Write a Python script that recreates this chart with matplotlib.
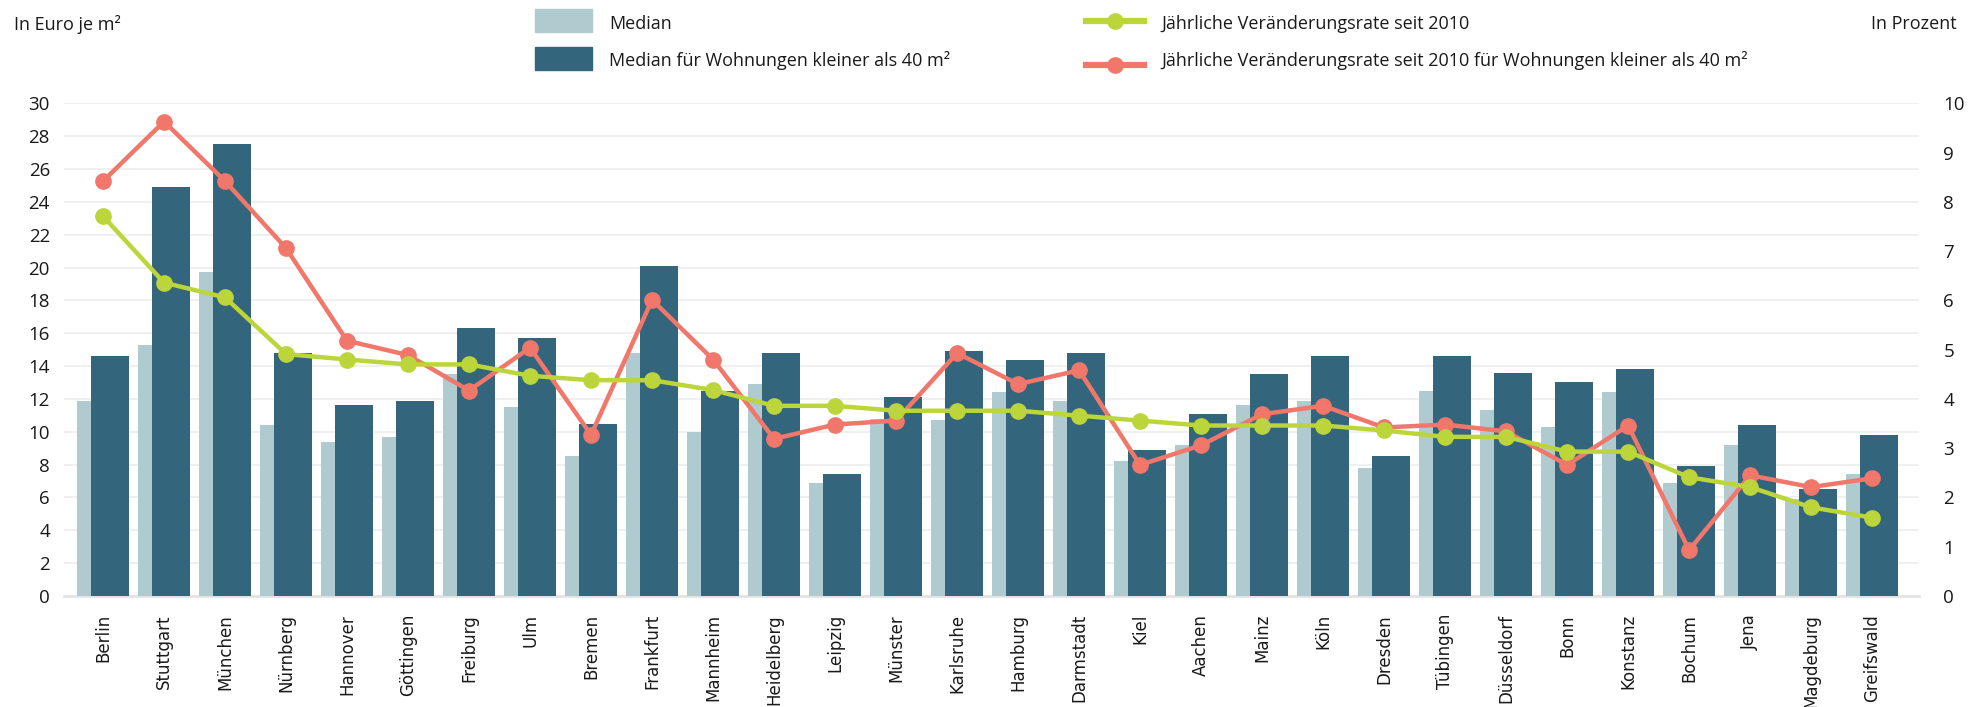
import matplotlib
matplotlib.use("Agg")
import matplotlib.pyplot as plt
from matplotlib import font_manager
from matplotlib.patches import Rectangle
from matplotlib.lines import Line2D
import numpy as np

cities = ["Berlin", "Stuttgart", "München", "Nürnberg", "Hannover", "Göttingen",
          "Freiburg", "Ulm", "Bremen", "Frankfurt", "Mannheim", "Heidelberg",
          "Leipzig", "Münster", "Karlsruhe", "Hamburg", "Darmstadt", "Kiel",
          "Aachen", "Mainz", "Köln", "Dresden", "Tübingen", "Düsseldorf", "Bonn",
          "Konstanz", "Bochum", "Jena", "Magdeburg", "Greifswald"]
median = [11.9, 15.3, 19.7, 10.4, 9.4, 9.7, 13.5, 11.5, 8.5, 14.8, 10.0, 12.9,
          6.9, 10.8, 10.7, 12.4, 11.9, 8.2, 9.2, 11.6, 11.9, 7.8, 12.5, 11.3,
          10.3, 12.4, 6.9, 9.2, 5.9, 7.4]
median_small = [14.6, 24.9, 27.5, 14.8, 11.6, 11.9, 16.3, 15.7, 10.5, 20.1, 12.5,
                14.8, 7.4, 12.1, 14.9, 14.4, 14.8, 8.9, 11.1, 13.5, 14.6, 8.5,
                14.6, 13.6, 13.0, 13.8, 7.9, 10.4, 6.5, 9.8]
rate = [7.71, 6.36, 6.06, 4.91, 4.80, 4.70, 4.70, 4.47, 4.38, 4.38, 4.18, 3.86,
        3.86, 3.76, 3.76, 3.76, 3.66, 3.56, 3.46, 3.46, 3.46, 3.36, 3.23, 3.23,
        2.93, 2.93, 2.41, 2.21, 1.80, 1.59]
rate_small = [8.42, 9.63, 8.42, 7.06, 5.18, 4.89, 4.17, 5.04, 3.27, 6.01, 4.80,
              3.19, 3.48, 3.56, 4.93, 4.30, 4.58, 2.66, 3.06, 3.69, 3.86, 3.42,
              3.48, 3.34, 2.66, 3.46, 0.93, 2.45, 2.21, 2.39]
left_ticks = list(range(0, 31, 2))
right_ticks = list(range(0, 11))
legend_labels = ["Median", "Median für Wohnungen kleiner als 40 m²",
                 "Jährliche Veränderungsrate seit 2010",
                 "Jährliche Veränderungsrate seit 2010 für Wohnungen kleiner als 40 m²"]

C_LIGHT = "#b0cbd0"
C_DARK = "#33667c"
C_GREEN = "#bcd53a"
C_RED = "#f0776a"
C_TEXT = "#1a1a1a"

names = {f.name for f in font_manager.fontManager.ttflist}
narrow = "DejaVu Sans"
for cand in ["Liberation Sans Narrow", "Open Sans", "Roboto"]:
    if cand in names:
        narrow = cand
        break

W, H = 1982, 707
fig = plt.figure(figsize=(W / 100, H / 100), dpi=100)
ax = fig.add_axes([63.8 / W, 1 - 596 / H, 1854.7 / W, 492.7 / H])

x = np.arange(len(cities))
ax.bar(x - 0.172, median, width=0.508, color=C_LIGHT, zorder=2)
ax.bar(x + 0.115, median_small, width=0.623, color=C_DARK, zorder=3)

ax.set_xlim(-0.643, 29.76)
ax.set_ylim(0, 30)
ax.set_yticks(left_ticks)
ax.yaxis.grid(True, color="#eeeeee", linewidth=1.2, zorder=0)
ax.set_axisbelow(True)
for s in ["top", "right", "left"]:
    ax.spines[s].set_visible(False)
ax.spines["bottom"].set_color("#e3e3e3")
ax.spines["bottom"].set_linewidth(2.0)
ax.spines["bottom"].set_zorder(1)
ax.tick_params(axis="both", length=0)
ax.tick_params(axis="y", pad=10)
ax.set_xticks(x)
ax.set_xticklabels(cities, rotation=90, fontsize=12, family="DejaVu Sans", color=C_TEXT)
ax.tick_params(axis="x", pad=13)
for lab in ax.get_yticklabels():
    lab.set_fontfamily(narrow)
    lab.set_fontsize(13.5)
    lab.set_color(C_TEXT)

ax2 = ax.twinx()
ax2.set_ylim(0, 10)
ax2.set_yticks(right_ticks)
for s in ["top", "right", "left", "bottom"]:
    ax2.spines[s].set_visible(False)
ax2.tick_params(axis="y", length=0, pad=18)
for lab in ax2.get_yticklabels():
    lab.set_fontfamily(narrow)
    lab.set_fontsize(13.5)
    lab.set_color(C_TEXT)
ax2.plot(x, rate, color=C_GREEN, linewidth=3.2, marker="o", markersize=11,
         zorder=5, clip_on=False)
ax2.plot(x, rate_small, color=C_RED, linewidth=3.2, marker="o", markersize=11,
         zorder=4, clip_on=False)
ax2.set_zorder(ax.get_zorder() + 1)

def fx(px):
    return px / W

def fy(py):
    return 1 - py / H

fs_leg = 13
fig.text(fx(14), fy(24), "In Euro je m²", fontsize=fs_leg, family=narrow,
         va="center", ha="left", color=C_TEXT)
fig.text(fx(1957), fy(24), "In Prozent", fontsize=fs_leg, family=narrow,
         va="center", ha="right", color=C_TEXT)

fig.patches.append(Rectangle((fx(535), fy(31.7)), 57 / W, 22.4 / H,
                             transform=fig.transFigure, color=C_LIGHT))
fig.patches.append(Rectangle((fx(535), fy(70)), 57 / W, 23 / H,
                             transform=fig.transFigure, color=C_DARK))
fig.text(fx(609), fy(24), legend_labels[0], fontsize=fs_leg, family=narrow,
         va="center", ha="left", color=C_TEXT)
fig.text(fx(609), fy(61), legend_labels[1], fontsize=fs_leg, family=narrow,
         va="center", ha="left", color=C_TEXT)

for yy, col in [(21, C_GREEN), (65, C_RED)]:
    fig.lines.append(Line2D([fx(1086), fx(1144)], [fy(yy), fy(yy)],
                            transform=fig.transFigure, color=col, linewidth=4.5))
    fig.lines.append(Line2D([fx(1115)], [fy(yy)], transform=fig.transFigure,
                            color=col, marker="o", markersize=11, linestyle="none"))
fig.text(fx(1161), fy(24), legend_labels[2], fontsize=fs_leg, family=narrow,
         va="center", ha="left", color=C_TEXT)
fig.text(fx(1161), fy(61), legend_labels[3], fontsize=fs_leg, family=narrow,
         va="center", ha="left", color=C_TEXT)

fig.savefig("out.png", dpi=100, facecolor="white")
